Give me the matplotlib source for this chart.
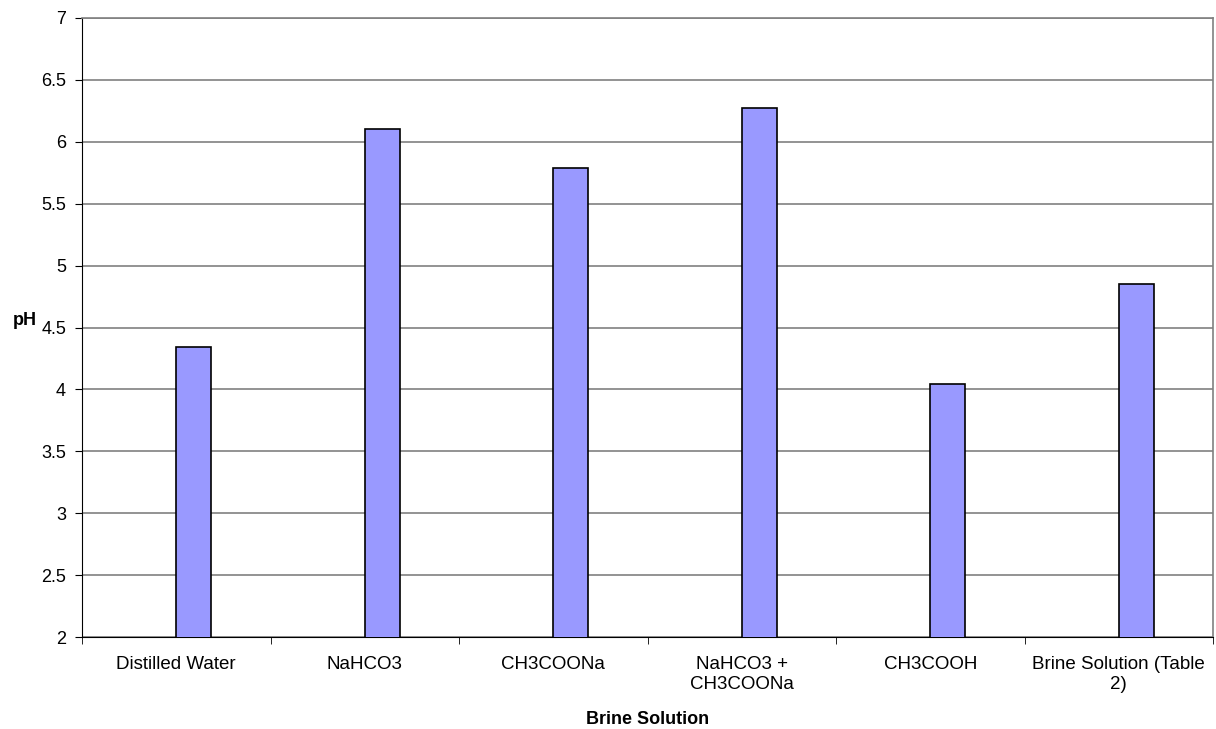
import matplotlib
matplotlib.use("Agg")
import matplotlib.pyplot as plt
import numpy as np

categories = ["Distilled Water", "NaHCO3", "CH3COONa", "NaHCO3 +\nCH3COONa",
              "CH3COOH", "Brine Solution (Table\n2)"]
ph_values = [4.34, 6.10, 5.79, 6.27, 4.04, 4.85]
y_ticks = [2, 2.5, 3, 3.5, 4, 4.5, 5, 5.5, 6, 6.5, 7]
y_tick_labels = ["2", "2.5", "3", "3.5", "4", "4.5", "5", "5.5", "6", "6.5", "7"]

plt.rcParams["font.family"] = ["Liberation Sans", "DejaVu Sans"]

fig = plt.figure(figsize=(12.16, 7.29), dpi=100)
ax = fig.add_axes([82 / 1216, 1 - 637 / 729, (1213 - 82) / 1216, (637 - 18) / 729])

x = np.arange(len(categories))
ax.bar(x, ph_values, width=0.186, align="edge", bottom=0,
       color="#9999ff", edgecolor="black", linewidth=1.2, zorder=3)

ax.set_xlim(-0.5, len(categories) - 0.5)
ax.set_ylim(2, 7)
ax.set_yticks(y_ticks)
ax.set_yticklabels(y_tick_labels, fontsize=13)
ax.yaxis.grid(True, color="#808080", linewidth=1.2, zorder=0)

ax.set_xticks(x)
ax.set_xticklabels(categories, fontsize=13.5)
ax.tick_params(axis="x", length=0, pad=14)
ax.set_xticks(np.arange(len(categories) + 1) - 0.5, minor=True)
ax.tick_params(axis="x", which="minor", length=5, direction="out", color="black")
ax.tick_params(axis="y", length=5, direction="out", color="black", pad=6.5)

for side in ["top", "right"]:
    ax.spines[side].set_color("#808080")
    ax.spines[side].set_linewidth(1.2)
ax.spines["left"].set_color("black")
ax.spines["bottom"].set_color("black")

ax.set_xlabel("Brine Solution", fontsize=13, fontweight="bold")
ax.xaxis.label.set_va("center")
ax.xaxis.set_label_coords(0.5, -0.133)
ax.set_ylabel("pH", fontsize=13, fontweight="bold", rotation=0,
              ha="center", va="center")
ax.yaxis.set_label_coords(-0.0504, 0.511)

fig.savefig("out.png", dpi=100, facecolor="white")
